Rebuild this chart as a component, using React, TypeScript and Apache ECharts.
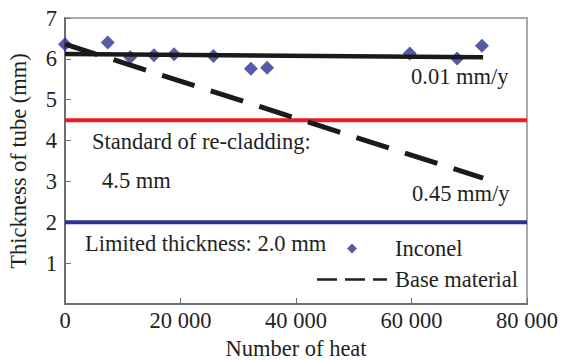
import React, { useEffect, useRef } from "react";
import * as echarts from "echarts";

const inconelX = [0, 7400, 11300, 15400, 18900, 25700, 32200, 35000, 59700, 67900, 72200];
const inconelY = [6.36, 6.4, 6.04, 6.09, 6.11, 6.07, 5.76, 5.78, 6.13, 6.01, 6.32];
const inconelTrendX = [0, 72400];
const inconelTrendY = [6.12, 6.04];
const baseX = [0, 72400];
const baseY = [6.36, 3.08];
const recladdingStd = 4.5;
const limitedThickness = 2.0;
const xTicks = [0, 20000, 40000, 60000, 80000];
const yTicks = [1, 2, 3, 4, 5, 6, 7];

const FONT = "'Liberation Serif', 'Times New Roman', serif";
const TXT = "#231f20";
const FS = 22.5;

export default function App() {
  const ref = useRef<HTMLDivElement>(null);
  useEffect(() => {
    if (!ref.current) return;
    const chart = echarts.init(ref.current, null, { renderer: "svg" });
    const xMin = xTicks[0];
    const xMax = xTicks[xTicks.length - 1];
    const label = (t: string, x: number, y: number) => ({
      type: "text",
      x,
      y,
      z: 100,
      style: { text: t, fontSize: FS, fontFamily: FONT, fill: TXT, align: "left", verticalAlign: "middle" },
    });
    chart.setOption({
      animation: false,
      backgroundColor: "#ffffff",
      textStyle: { fontFamily: FONT, color: TXT },
      grid: {
        left: 65,
        right: 36,
        top: 18,
        bottom: 56,
        outerBoundsMode: "none",
        containLabel: false,
        show: true,
        borderColor: "#a7a9ac",
        borderWidth: 2,
        backgroundColor: "transparent",
      },
      xAxis: {
        type: "value",
        min: xMin,
        max: xMax,
        interval: 20000,
        name: "Number of heat",
        nameLocation: "middle",
        nameGap: 32,
        nameTextStyle: { fontSize: FS, fontFamily: FONT, color: TXT, lineHeight: 22 },
        axisLine: { show: true, lineStyle: { color: "#6d6e71", width: 2 } },
        axisTick: { show: true, inside: true, length: 6, lineStyle: { color: "#6d6e71", width: 1 } },
        splitLine: { show: false },
        axisLabel: {
          fontSize: FS,
          fontFamily: FONT,
          color: TXT,
          margin: 5,
          formatter: (v: number) => String(v).replace(/\B(?=(\d{3})+(?!\d))/g, " "),
        },
      },
      yAxis: {
        type: "value",
        min: 0,
        max: yTicks[yTicks.length - 1],
        interval: 1,
        name: "Thickness of tube (mm)",
        nameLocation: "middle",
        nameGap: 35,
        nameRotate: 90,
        nameTextStyle: { fontSize: FS, fontFamily: FONT, color: TXT },
        axisLine: { show: true, lineStyle: { color: "#6d6e71", width: 2 } },
        axisTick: { show: true, inside: true, length: 6, lineStyle: { color: "#6d6e71", width: 1 } },
        splitLine: { show: false },
        axisLabel: {
          fontSize: FS,
          fontFamily: FONT,
          color: TXT,
          margin: 8,
          formatter: (v: number) => (yTicks.includes(v) ? String(v) : ""),
        },
      },
      legend: [
        {
          data: [{ name: "Inconel", icon: "diamond" }],
          left: 347,
          top: 237,
          padding: 0,
          itemWidth: 10,
          itemHeight: 10,
          textStyle: { fontSize: FS, fontFamily: FONT, color: TXT, lineHeight: 23, padding: [0, 0, 0, 33] },
        },
        {
          data: [
            {
              name: "Base material",
              icon: "path://M0,0h20v2.6h-20z M28,0h20v2.6h-20z M56,0h14v2.6h-14z",
            },
          ],
          left: 317,
          top: 268,
          padding: 0,
          itemWidth: 70,
          itemHeight: 2.6,
          itemStyle: { color: "#231f20" },
          textStyle: { fontSize: FS, fontFamily: FONT, color: TXT, lineHeight: 23, padding: [0, 0, 0, 3] },
        },
      ],
      series: [
        {
          name: "Re-cladding standard",
          type: "line",
          data: [[xMin, recladdingStd], [xMax, recladdingStd]],
          symbol: "none",
          lineStyle: { color: "#ed1c24", width: 4 },
          z: 1,
        },
        {
          name: "Limited thickness",
          type: "line",
          data: [[xMin, limitedThickness], [xMax, limitedThickness]],
          symbol: "none",
          lineStyle: { color: "#2e3192", width: 4 },
          z: 1,
        },
        {
          name: "Inconel",
          type: "scatter",
          data: inconelX.map((x, i) => [x, inconelY[i]]),
          symbol: "diamond",
          symbolSize: 14,
          itemStyle: { color: "#2e3192" },
          z: 2,
        },
        {
          name: "Inconel trend",
          type: "line",
          data: inconelTrendX.map((x, i) => [x, inconelTrendY[i]]),
          symbol: "none",
          lineStyle: { color: "#1a1a1a", width: 4.5 },
          z: 3,
        },
        {
          name: "Base material",
          type: "line",
          data: baseX.map((x, i) => [x, baseY[i]]),
          symbol: "none",
          itemStyle: { color: "#1a1a1a" },
          lineStyle: { color: "#1a1a1a", width: 5, type: [34, 17] },
          z: 3,
        },
      ],
      graphic: [
        label("Standard of re-cladding:", 92, 141),
        label("4.5 mm", 102, 180),
        label("0.01 mm/y", 411, 76),
        label("0.45 mm/y", 412, 193),
        label("Limited thickness: 2.0 mm", 85, 243),
      ],
    });
    return () => chart.dispose();
  }, []);
  return <div ref={ref} style={{ position: "fixed", left: 0, top: 0, width: 563, height: 360 }} />;
}
